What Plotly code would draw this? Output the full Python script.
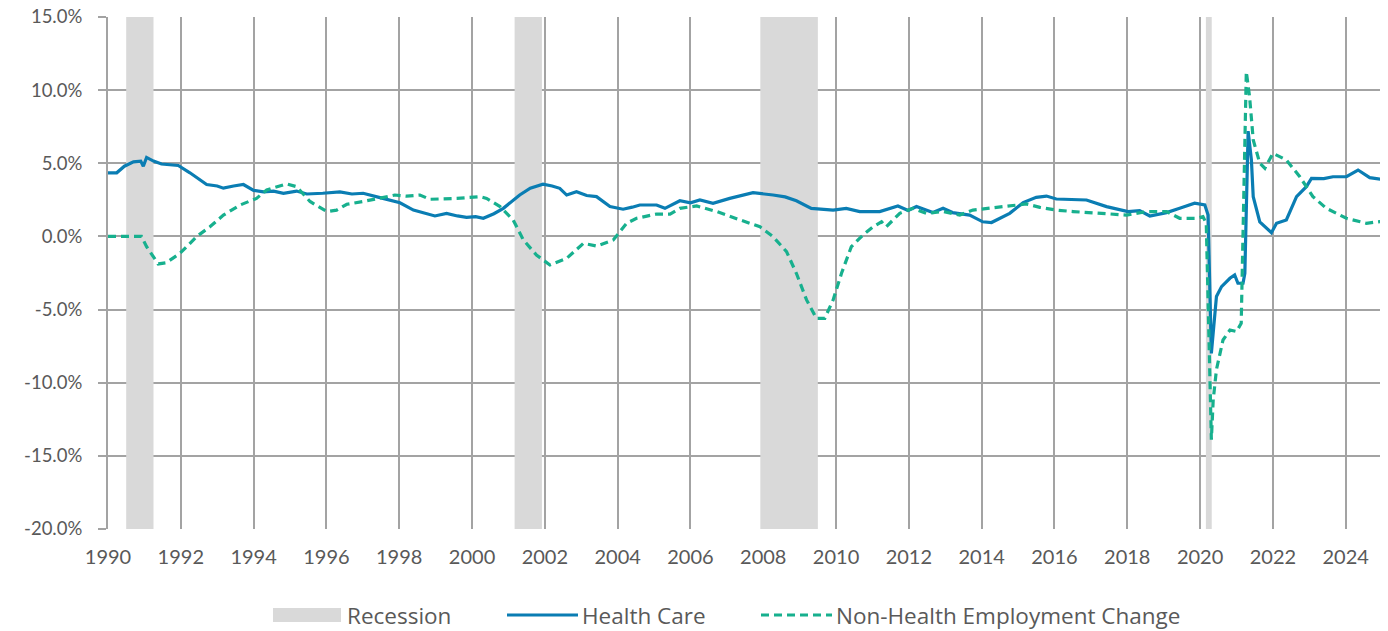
import plotly.graph_objects as go

# ---------------- data ----------------
hc_years = [1990.00, 1990.24, 1990.45, 1990.70, 1990.90, 1990.97, 1991.06, 1991.25, 1991.47, 1991.93,
            1992.25, 1992.50, 1992.71, 1993.00, 1993.17, 1993.45, 1993.72, 1994.00, 1994.27, 1994.55,
            1994.82, 1995.18, 1995.46, 1995.90, 1996.37, 1996.70, 1997.01, 1997.47, 1998.02, 1998.39,
            1998.70, 1998.98, 1999.30, 1999.60, 1999.85, 2000.10, 2000.31, 2000.60, 2000.86, 2001.10,
            2001.31, 2001.60, 2001.95, 2002.20, 2002.41, 2002.60, 2002.87, 2003.15, 2003.42, 2003.79,
            2004.15, 2004.40, 2004.61, 2005.07, 2005.30, 2005.71, 2006.00, 2006.26, 2006.62, 2007.08,
            2007.40, 2007.72, 2008.27, 2008.60, 2008.91, 2009.32, 2009.92, 2010.28, 2010.65, 2011.20,
            2011.70, 2011.98, 2012.21, 2012.66, 2012.94, 2013.20, 2013.67, 2014.03, 2014.27, 2014.77,
            2015.14, 2015.50, 2015.78, 2016.05, 2016.88, 2017.43, 2018.02, 2018.34, 2018.62, 2019.08,
            2019.44, 2019.85, 2020.13, 2020.22, 2020.31, 2020.45, 2020.59, 2020.82, 2020.95, 2021.04,
            2021.18, 2021.23, 2021.32, 2021.41, 2021.46, 2021.64, 2021.96, 2022.10, 2022.37, 2022.65,
            2022.92, 2023.06, 2023.40, 2023.65, 2024.02, 2024.34, 2024.66, 2025.07]
hc_values = [4.35, 4.35, 4.80, 5.10, 5.15, 4.80, 5.40, 5.15, 4.95, 4.85,
             4.35, 3.95, 3.55, 3.45, 3.30, 3.45, 3.55, 3.15, 3.05, 3.10,
             2.95, 3.10, 2.90, 2.95, 3.05, 2.90, 2.95, 2.65, 2.30, 1.80,
             1.60, 1.40, 1.58, 1.40, 1.31, 1.35, 1.24, 1.55, 1.92, 2.40,
             2.83, 3.30, 3.57, 3.45, 3.29, 2.83, 3.06, 2.80, 2.72, 2.04,
             1.86, 2.00, 2.15, 2.15, 1.92, 2.44, 2.30, 2.49, 2.27, 2.60,
             2.80, 2.99, 2.83, 2.70, 2.44, 1.92, 1.80, 1.92, 1.70, 1.70,
             2.08, 1.77, 2.04, 1.63, 1.92, 1.63, 1.46, 1.00, 0.95, 1.58,
             2.31, 2.67, 2.76, 2.56, 2.49, 2.04, 1.70, 1.77, 1.40, 1.63,
             1.92, 2.27, 2.15, 1.47, -8.00, -4.10, -3.43, -2.86, -2.63, -3.20,
             -3.20, -2.52, 7.20, 5.23, 2.72, 1.00, 0.25, 0.90, 1.13, 2.72,
             3.40, 3.97, 3.95, 4.08, 4.08, 4.54, 4.02, 3.86]

nh_years = [1990.00, 1990.92, 1991.06, 1991.38, 1991.60, 1991.98, 1992.44, 1992.80, 1993.17, 1993.63,
            1994.08, 1994.36, 1994.91, 1995.18, 1995.55, 1996.01, 1996.28, 1996.56, 1997.01, 1997.47,
            1997.88, 1998.20, 1998.57, 1998.84, 1999.58, 2000.22, 2000.40, 2000.77, 2001.13, 2001.41,
            2001.77, 2002.14, 2002.60, 2003.06, 2003.42, 2003.88, 2004.25, 2004.52, 2005.07, 2005.44,
            2005.71, 2006.17, 2006.72, 2007.36, 2007.91, 2008.27, 2008.64, 2008.91, 2009.19, 2009.46,
            2009.69, 2009.92, 2010.15, 2010.42, 2010.74, 2011.02, 2011.25, 2011.38, 2011.75, 2012.11,
            2012.48, 2012.94, 2013.40, 2013.76, 2014.50, 2015.23, 2015.60, 2016.05, 2016.51, 2017.15,
            2017.98, 2018.53, 2019.08, 2019.44, 2019.90, 2020.08, 2020.17, 2020.31, 2020.36, 2020.45,
            2020.63, 2020.82, 2021.00, 2021.13, 2021.27, 2021.36, 2021.46, 2021.64, 2021.78, 2022.00,
            2022.37, 2022.74, 2023.10, 2023.47, 2024.02, 2024.57, 2025.07]
nh_values = [0.00, 0.00, -0.70, -1.88, -1.80, -1.15, 0.00, 0.66, 1.46, 2.15,
             2.60, 3.18, 3.59, 3.40, 2.39, 1.70, 1.80, 2.20, 2.39, 2.60,
             2.83, 2.75, 2.83, 2.54, 2.60, 2.72, 2.60, 2.04, 1.13, -0.24,
             -1.27, -1.95, -1.50, -0.47, -0.66, -0.24, 0.90, 1.24, 1.53, 1.53,
             1.92, 2.08, 1.70, 1.13, 0.66, -0.02, -1.04, -2.52, -4.34, -5.60,
             -5.60, -4.34, -2.52, -0.70, 0.10, 0.66, 1.00, 0.66, 1.58, 1.92,
             1.58, 1.70, 1.46, 1.80, 1.99, 2.22, 1.99, 1.80, 1.70, 1.58,
             1.46, 1.70, 1.70, 1.24, 1.24, 1.35, 0.90, -13.90, -11.20, -9.10,
             -7.08, -6.40, -6.50, -5.94, 11.26, 9.55, 6.60, 5.00, 4.66, 5.68,
             5.23, 4.08, 2.72, 1.92, 1.24, 0.90, 1.05]

recession_starts = [1990.50, 2001.17, 2007.92, 2020.16]
recession_ends = [1991.25, 2001.92, 2009.50, 2020.32]

y_tickvals = [15, 10, 5, 0, -5, -10, -15, -20]
y_ticktext = ["15.0%", "10.0%", "5.0%", "0.0%", "-5.0%", "-10.0%", "-15.0%", "-20.0%"]
x_tickvals = list(range(1990, 2025, 2))

series_names = ["Recession", "Health Care", "Non-Health Employment Change"]

Y_MIN, Y_MAX = -20, 15
REC_COLOR = "#d9d9d9"
HC_COLOR = "#0a7db3"
NH_COLOR = "#17b08e"
TEXT_COLOR = "#595959"
GRID = "#a3a3a3"

# ---------------- figure ----------------
# the page body has an 8px margin, so the figure is placed at (8, 8)
OFF = 8
W, H = 1388 - OFF, 631 - OFF
ML, MR, MT, MB = 108 - OFF, 3, 17 - OFF, 102
PW, PH = W - ML - MR, H - MT - MB

fig = go.Figure()

rx, ry = [], []
for s, e in zip(recession_starts, recession_ends):
    rx += [s, e, e, s, s, None]
    ry += [Y_MIN, Y_MIN, Y_MAX, Y_MAX, Y_MIN, None]
fig.add_trace(go.Scatter(
    x=rx, y=ry, mode="lines", fill="toself", fillcolor=REC_COLOR,
    line=dict(width=0, color=REC_COLOR), name=series_names[0], hoverinfo="skip"))

fig.add_trace(go.Scatter(
    x=hc_years, y=hc_values, mode="lines", name=series_names[1],
    line=dict(color=HC_COLOR, width=3.2)))

fig.add_trace(go.Scatter(
    x=nh_years, y=nh_values, mode="lines", name=series_names[2],
    line=dict(color=NH_COLOR, width=3.2, dash="8px,5px")))

# ---- custom legend (paper coordinates, page pixels converted) ----
def px_x(p):
    return (p - OFF - ML) / PW

def px_y(p):
    return (H - MB - (p - OFF)) / PH

ly = 615
shapes = [
    dict(type="rect", xref="paper", yref="paper",
         x0=px_x(273), x1=px_x(341), y0=px_y(622), y1=px_y(608),
         fillcolor=REC_COLOR, line=dict(width=0)),
    dict(type="line", xref="paper", yref="paper",
         x0=px_x(507), x1=px_x(578), y0=px_y(ly), y1=px_y(ly),
         line=dict(color=HC_COLOR, width=3.2)),
    dict(type="line", xref="paper", yref="paper",
         x0=px_x(761), x1=px_x(832), y0=px_y(ly), y1=px_y(ly),
         line=dict(color=NH_COLOR, width=3.2, dash="8px,5px")),
]
annotations = []
for name, xpx in zip(series_names, [345, 580, 834]):
    annotations.append(dict(
        text=name, xref="paper", yref="paper", x=px_x(xpx), y=px_y(ly),
        xanchor="left", yanchor="middle", showarrow=False,
        font=dict(family="Open Sans, sans-serif", size=22.5, color=TEXT_COLOR)))

fig.update_layout(
    width=W, height=H,
    margin=dict(l=ML, r=MR, t=MT, b=MB, autoexpand=False),
    paper_bgcolor="white", plot_bgcolor="white",
    font=dict(family="Lato, Open Sans, sans-serif", size=20, color=TEXT_COLOR),
    showlegend=False,
    shapes=shapes, annotations=annotations,
)
fig.update_xaxes(
    range=[1990, 2025.08], tickvals=x_tickvals, ticktext=[str(v) for v in x_tickvals],
    showgrid=True, gridcolor=GRID, gridwidth=2, automargin=False,
    showline=False, zeroline=False, ticks="", tickfont=dict(size=20),
    ticklabelstandoff=14, ticklabeloverflow="allow",
)
fig.update_yaxes(
    range=[Y_MIN, Y_MAX], tickvals=y_tickvals, ticktext=y_ticktext,
    showgrid=True, gridcolor=GRID, gridwidth=2, automargin=False,
    showline=True, linecolor=GRID, linewidth=2, zeroline=False,
    ticks="outside", ticklen=8, tickcolor=GRID, tickwidth=2,
    ticklabelstandoff=12, tickfont=dict(size=18.5), ticklabeloverflow="allow",
)

fig.write_html("out.html")
